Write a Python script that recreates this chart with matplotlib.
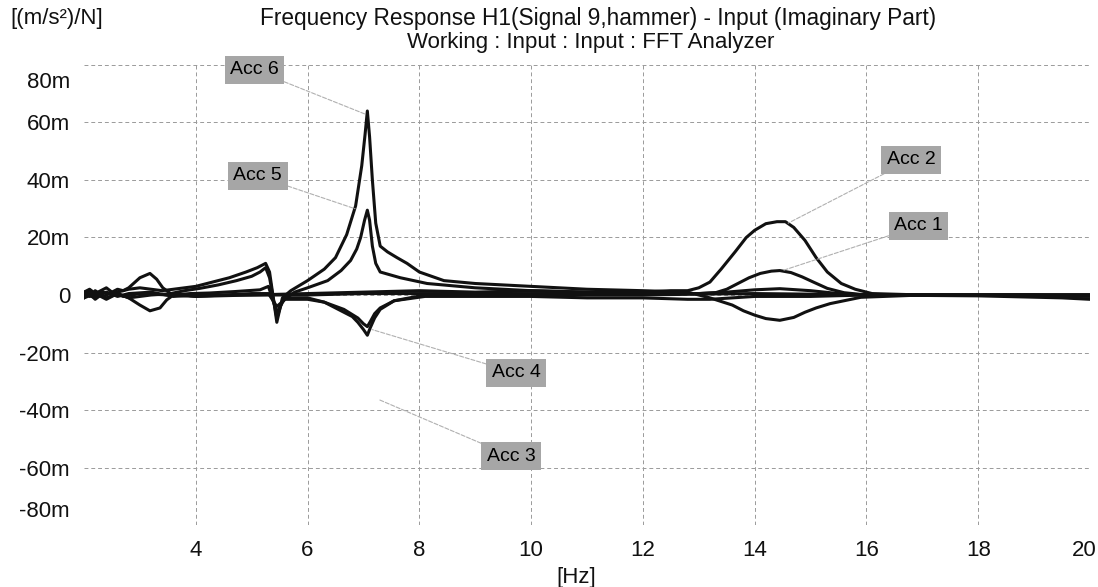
import numpy as np
import matplotlib
matplotlib.use("Agg")
from matplotlib import pyplot as plt
from matplotlib.transforms import ScaledTranslation

plt.rcParams['font.family'] = ['Liberation Sans', 'DejaVu Sans']

# ------------------------------ Dados (em m[(m/s2)/N]) ------------------------------ #
f_acc6 = [2.0, 2.1, 2.2, 2.3, 2.4, 2.5, 2.6, 2.7, 2.8, 3.0, 3.2, 3.4, 3.6, 3.8, 4.0, 4.3,
          4.6, 4.9, 5.1, 5.25, 5.32, 5.38, 5.45, 5.55, 5.7, 6.0, 6.3, 6.5, 6.7, 6.86, 6.97,
          7.03, 7.07, 7.11, 7.16, 7.22, 7.3, 7.43, 7.6, 7.78, 8.0, 8.44, 9.0, 9.5, 10.0,
          11.0, 12.0, 12.8, 13.2, 13.6, 13.8, 14.0, 14.2, 14.45, 14.7, 14.9, 15.1, 15.35,
          15.6, 15.9, 17.0, 18.0, 19.0, 19.5, 20.0]
h_acc6 = [1.0, 2.0, 0.5, 1.5, 2.5, 1.0, 2.0, 1.5, 2.0, 2.5, 2.0, 1.5, 2.0, 2.5, 3.0, 4.5,
          6.0, 8.0, 9.5, 11.0, 8.0, 0.0, -9.5, -1.0, 1.5, 5.0, 9.0, 13.0, 21.0, 31.0, 45.0,
          56.0, 64.0, 55.0, 40.0, 25.0, 17.0, 15.0, 13.0, 11.0, 8.0, 5.0, 4.0, 3.5, 3.0,
          2.0, 1.5, 1.0, -1.0, -3.5, -5.5, -7.0, -8.2, -8.8, -7.8, -6.0, -4.5, -3.0,
          -2.0, -0.8, 0.0, 0.0, 0.0, -0.5, -0.5]

f_acc5 = [2.0, 2.1, 2.2, 2.3, 2.5, 2.7, 2.8, 3.0, 3.18, 3.3, 3.41, 3.55, 3.8, 4.07, 4.4,
          4.73, 5.0, 5.15, 5.25, 5.32, 5.45, 5.55, 5.77, 6.0, 6.36, 6.6, 6.77, 6.88, 6.95,
          7.02, 7.07, 7.11, 7.16, 7.22, 7.3, 7.66, 8.14, 9.0, 10.0, 11.0, 12.0, 13.0, 13.5,
          14.0, 14.45, 15.0, 15.5, 16.0, 18.0, 20.0]
h_acc5 = [0.0, 1.5, -0.5, 1.0, 0.5, 1.5, 2.5, 6.0, 7.5, 5.5, 2.5, 0.5, 1.5, 2.3, 3.5,
          5.0, 6.5, 8.0, 9.5, 6.0, -8.0, -2.0, 1.0, 2.5, 5.0, 8.5, 12.0, 16.0, 20.0,
          26.0, 29.5, 26.0, 17.0, 11.0, 8.0, 6.0, 4.0, 2.5, 1.5, 1.0, 0.5, 0.5, 1.0,
          1.8, 2.2, 1.5, 0.5, 0.0, 0.0, 0.0]

f_acc4 = [2.0, 2.1, 2.2, 2.3, 2.4, 2.6, 2.8, 3.0, 3.18, 3.36, 3.48, 3.6, 3.9, 4.25, 4.7,
          5.15, 5.3, 5.45, 5.6, 6.0, 6.3, 6.65, 6.8, 6.9, 7.0, 7.07, 7.12, 7.2, 7.3, 7.55,
          8.1, 9.0, 10.0, 12.0, 13.0, 14.0, 15.0, 16.0, 18.0, 20.0]
h_acc4 = [-1.0, 0.5, -1.5, 0.0, -1.0, 0.5, -1.0, -3.5, -5.5, -4.5, -1.7, 0.0, 0.5, 0.7, 1.2,
          1.8, 3.0, -6.0, -1.0, -1.0, -2.5, -6.0, -7.5, -9.5, -12.0, -14.0, -11.5, -8.0, -5.0,
          -2.0, 0.0, 0.5, 0.0, 0.0, 0.3, 0.5, 0.3, 0.0, 0.0, 0.0]

f_acc3 = [2.0, 2.1, 2.2, 2.35, 2.5, 2.7, 3.0, 3.5, 4.0, 4.5, 5.0, 5.3, 5.45, 5.6, 6.0,
          6.3, 6.65, 6.9, 7.0, 7.07, 7.13, 7.2, 7.3, 7.55, 8.1, 9.0, 10.0, 11.0, 12.0, 12.8,
          13.2, 14.0, 15.0, 16.0, 18.0, 19.5, 20.0]
h_acc3 = [1.0, -0.5, 1.5, -0.5, 1.0, -0.5, 0.5, 0.0, -0.5, 0.0, 0.5, 0.5, -4.0, -1.5, -1.5,
          -2.5, -5.0, -8.0, -10.0, -11.0, -9.0, -6.5, -4.5, -2.0, -0.5, -0.5, -0.5, -1.0,
          -1.0, -1.5, -1.5, -0.5, -0.5, 0.0, -0.3, -1.0, -1.5]

f_acc2 = [2.0, 2.2, 2.4, 2.6, 2.8, 3.2, 3.6, 4.0, 5.0, 6.0, 7.0, 8.0, 9.0, 10.0, 11.0,
          12.0, 12.5, 12.8, 13.0, 13.2, 13.4, 13.65, 13.85, 14.0, 14.2, 14.4, 14.55, 14.7,
          14.9, 15.1, 15.3, 15.55, 15.8, 16.1, 17.0, 18.0, 19.0, 20.0]
h_acc2 = [0.5, -1.0, 1.0, -0.5, 0.5, 1.0, -0.5, 0.0, 0.0, 0.5, 1.0, 1.5, 1.0, 1.5, 1.0,
          1.0, 1.5, 1.5, 2.5, 4.5, 9.0, 15.0, 20.0, 22.5, 24.8, 25.5, 25.5, 23.5,
          19.0, 13.0, 8.0, 4.0, 2.0, 0.5, 0.0, 0.0, 0.0, 0.0]

f_acc1 = [2.0, 2.2, 2.4, 2.6, 2.8, 3.2, 3.6, 4.0, 5.0, 6.0, 7.0, 8.0, 9.0, 10.0, 11.0,
          12.0, 13.0, 13.3, 13.5, 13.7, 13.9, 14.1, 14.3, 14.45, 14.65, 14.85, 15.05, 15.3,
          15.6, 15.9, 18.0, 20.0]
h_acc1 = [-1.0, 0.5, -1.5, 0.5, -1.0, 0.0, 0.5, -0.5, 0.0, 0.0, 0.5, 0.5, 0.5, 0.5, 0.5,
          0.5, 0.5, 0.8, 2.0, 4.0, 6.0, 7.5, 8.3, 8.5, 7.8, 6.3, 4.5, 2.3,
          0.8, 0.2, 0.0, 0.0]

curvas = [(f_acc1, h_acc1), (f_acc2, h_acc2), (f_acc3, h_acc3),
          (f_acc4, h_acc4), (f_acc5, h_acc5), (f_acc6, h_acc6)]

# rotulos: (texto, posicao da caixa, ponto indicado)
rotulos = [("Acc 6", (5.05, 78.3), (7.02, 63.0)),
           ("Acc 5", (5.11, 41.4), (6.85, 30.0)),
           ("Acc 2", (16.80, 47.0), (14.6, 25.0)),
           ("Acc 1", (16.93, 24.0), (14.5, 8.5)),
           ("Acc 4", (9.73, -27.1), (7.15, -12.0)),
           ("Acc 3", (9.64, -56.0), (7.29, -36.5))]

x_ticks = [4, 6, 8, 10, 12, 14, 16, 18, 20]
y_ticks = [-80, -60, -40, -20, 0, 20, 40, 60, 80]
y_labels = ["-80m", "-60m", "-40m", "-20m", "0", "20m", "40m", "60m", "80m"]

# ------------------------------- Grafico -------------------------------- #
fig = plt.figure(figsize=(10.98, 5.87), dpi=100)
ax = fig.add_axes([0.0765, 0.1056, 0.9162, 0.7837])

for f, h in curvas:
    ax.plot(f, h, color="#111111", linewidth=2.2, solid_joinstyle="round")

ax.set_xlim(2, 20)
ax.set_ylim(-80, 80)
ax.set_xticks(x_ticks)
ax.set_yticks(y_ticks)
ax.set_yticklabels(y_labels)
ax.tick_params(length=0, labelsize=16, colors="#111111")
ax.tick_params(axis="x", pad=11)
ax.tick_params(axis="y", pad=10)
ax.grid(True, color="#9a9a9a", linewidth=0.7, linestyle=(0, (4, 3)))
for s in ax.spines.values():
    s.set_visible(False)

# rotulos das extremidades ficam para dentro
yl = ax.get_yticklabels()
yl[-1].set_transform(yl[-1].get_transform() + ScaledTranslation(0, -0.15, fig.dpi_scale_trans))
yl[0].set_transform(yl[0].get_transform() + ScaledTranslation(0, 0.16, fig.dpi_scale_trans))
xl = ax.get_xticklabels()
xl[-1].set_transform(xl[-1].get_transform() + ScaledTranslation(-0.06, 0, fig.dpi_scale_trans))

for texto, pos, alvo in rotulos:
    ax.annotate(texto, xy=alvo, xytext=pos, ha="center", va="center", fontsize=14,
                bbox=dict(boxstyle="square,pad=0.28", facecolor="#a6a6a6", edgecolor="none"),
                arrowprops=dict(arrowstyle="-", color="#b0b0b0", linewidth=0.8,
                                linestyle="--", shrinkA=0, shrinkB=0))

fig.text(0.545, 0.969, "Frequency Response H1(Signal 9,hammer) - Input (Imaginary Part)",
         ha="center", va="center", fontsize=16.3, color="#111111")
fig.text(0.538, 0.928, "Working : Input : Input : FFT Analyzer",
         ha="center", va="center", fontsize=16, color="#111111")
fig.text(0.009, 0.969, "[(m/s²)/N]", ha="left", va="center", fontsize=16, color="#111111")
fig.text(0.525, 0.017, "[Hz]", ha="center", va="center", fontsize=16, color="#111111")

fig.savefig("out.png", dpi=100)
